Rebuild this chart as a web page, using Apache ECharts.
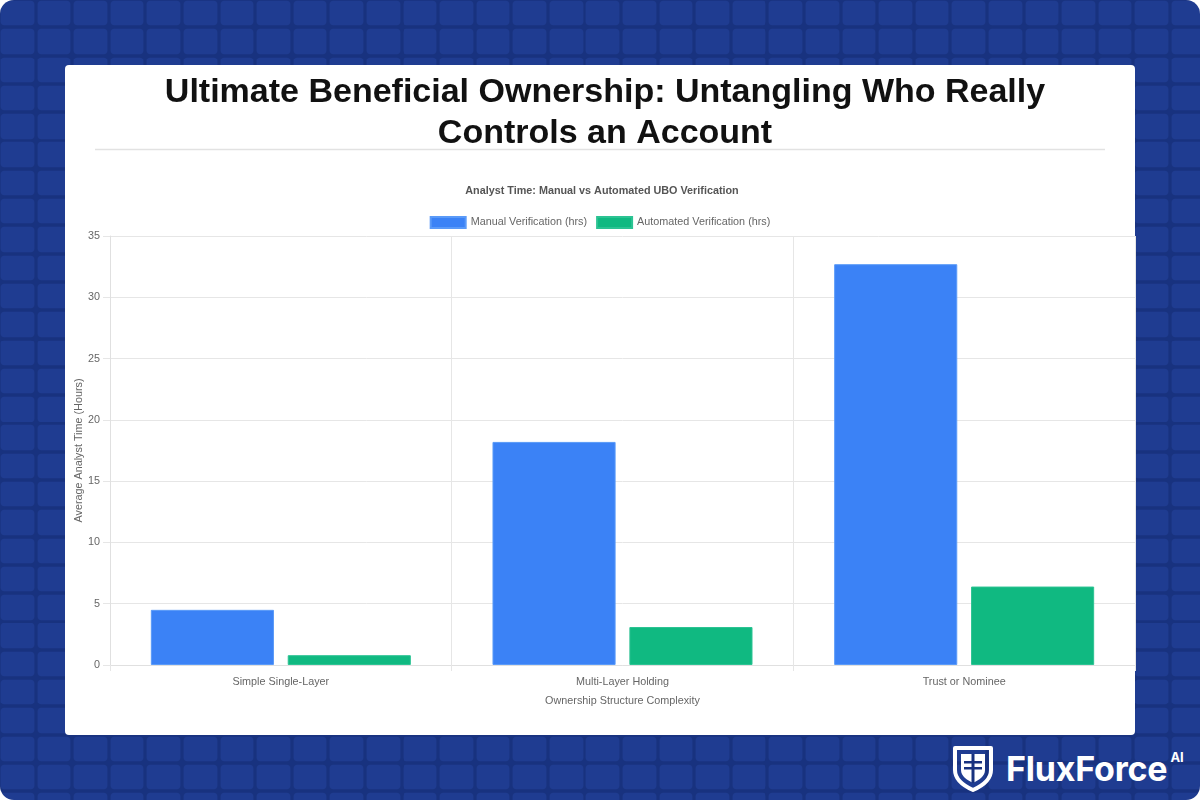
<!DOCTYPE html>
<html>
<head>
<meta charset="utf-8">
<script src="https://cdn.jsdelivr.net/npm/echarts@6/dist/echarts.min.js"></script>
<style>
  html, body { margin: 0; padding: 0; background: #ffffff; }
  #page {
    position: absolute; left: 0; top: 0; width: 1200px; height: 800px;
    border-radius: 14px; overflow: hidden;
    background-color: #18327f;
    background-image: url("data:image/svg+xml;utf8,<svg xmlns='http://www.w3.org/2000/svg' width='36.6' height='28.3'><rect x='1.6' y='1.6' width='33.4' height='25.1' rx='4' ry='4' fill='%231f3c91'/></svg>");
    background-size: 36.6px 28.3px;
    background-position: -1px -1px;
  }
  #card {
    position: absolute; left: 65px; top: 65px; width: 1070px; height: 670px;
    background: #ffffff; border-radius: 4px;
  }
  #chart { position: absolute; left: 0; top: 0; width: 1200px; height: 800px; }
  #logo { position: absolute; left: 952px; top: 744px; height: 48px; display: flex; align-items: center; }
  #logo .name { font-family: "Inter", "Liberation Sans", Arial, sans-serif; font-weight: 700; font-size: 34px; color: #fff; margin-left: 12px; letter-spacing: -0.2px; }
  #logo sup { font-family: "Inter", "Liberation Sans", Arial, sans-serif; font-weight: 700; font-size: 13px; color: #fff; position: relative; top: -11px; margin-left: 3px; }
</style>
</head>
<body>
<div id="page">
  <div id="card"></div>
  <div id="logo">
    <svg width="42" height="48" viewBox="0 0 42 48">
      <path d="M3 4 H39 V26 C39 36 30 42 21 46 C12 42 3 36 3 26 Z" fill="none" stroke="#fff" stroke-width="4" stroke-linejoin="round"/>
      <path d="M9 10 H33 V26 C33 32 27 36 21 39 C15 36 9 32 9 26 Z" fill="#fff"/>
      <rect x="19.5" y="10" width="3" height="29" fill="#18327f"/>
      <rect x="12" y="17" width="18" height="2.5" fill="#18327f"/>
      <rect x="12" y="23" width="18" height="2.5" fill="#18327f"/>
    </svg>
    <span class="name">FluxForce</span><sup>AI</sup>
  </div>
</div>
<div id="chart"></div>
<script>
const categories = ['Simple Single-Layer', 'Multi-Layer Holding', 'Trust or Nominee'];
const manualHours = [4.5, 18.2, 32.7];
const automatedHours = [0.8, 3.1, 6.4];
const seriesNames = ['Manual Verification (hrs)', 'Automated Verification (hrs)'];
const mainTitle = 'Ultimate Beneficial Ownership: Untangling Who Really\nControls an Account';
const chartTitle = 'Analyst Time: Manual vs Automated UBO Verification';
const yAxisName = 'Average Analyst Time (Hours)';
const xAxisName = 'Ownership Structure Complexity';

const FONT = '"Liberation Sans", Arial, Helvetica, sans-serif';
const SMALL = 10.8;
const chart = echarts.init(document.getElementById('chart'), null, { renderer: 'canvas' });
chart.setOption({
  backgroundColor: 'transparent',
  animation: false,
  textStyle: { fontFamily: FONT },
  title: [
    {
      text: mainTitle, left: 600, top: 67, textAlign: 'center',
      textStyle: { fontFamily: FONT, fontSize: 34, fontWeight: 'bold', color: '#111111', lineHeight: 41 }
    },
    {
      text: chartTitle, left: 597, top: 181, textAlign: 'center',
      textStyle: { fontFamily: FONT, fontSize: SMALL, fontWeight: 'bold', color: '#555555' }
    }
  ],
  graphic: [
    { type: 'line', shape: { x1: 95, y1: 149.5, x2: 1105, y2: 149.5 }, style: { stroke: '#e2e2e2', lineWidth: 1.5 } }
  ],
  legend: {
    top: 211, left: 'center', itemWidth: 35, itemHeight: 11, itemGap: 9,
    textStyle: { fontFamily: FONT, fontSize: SMALL, color: '#666666' },
    data: [
      { name: seriesNames[0], icon: 'rect' },
      { name: seriesNames[1], icon: 'rect' }
    ]
  },
  grid: { left: 110, right: 65, top: 236, bottom: 135, containLabel: false },
  xAxis: {
    type: 'category', data: categories, boundaryGap: true,
    name: xAxisName, nameLocation: 'middle', nameGap: 31, nameMoveOverlap: false,
    nameTextStyle: { fontFamily: FONT, fontSize: SMALL, color: '#666666' },
    axisLine: { show: true, lineStyle: { color: '#e0e0e0' } },
    axisTick: { show: true, length: 6, lineStyle: { color: '#e6e6e6' } },
    axisLabel: { fontFamily: FONT, fontSize: SMALL, color: '#666666', margin: 12 },
    splitLine: { show: true, lineStyle: { color: '#e6e6e6' } }
  },
  yAxis: {
    type: 'value', min: 0, max: 35, interval: 5,
    name: yAxisName, nameLocation: 'middle', nameGap: 25, nameRotate: 90, nameMoveOverlap: false,
    nameTextStyle: { fontFamily: FONT, fontSize: SMALL, color: '#666666' },
    axisLine: { show: true, lineStyle: { color: '#e0e0e0' } },
    axisTick: { show: true, length: 7, lineStyle: { color: '#e6e6e6' } },
    axisLabel: { fontFamily: FONT, fontSize: SMALL, color: '#666666', margin: 10 },
    splitLine: { show: true, lineStyle: { color: '#e6e6e6' } }
  },
  series: [
    {
      name: seriesNames[0], type: 'bar', data: manualHours,
      barCategoryGap: '23.9%', barGap: '11.2%',
      itemStyle: { color: '#3b82f6', borderColor: '#5a9af8', borderWidth: 1 }
    },
    {
      name: seriesNames[1], type: 'bar', data: automatedHours,
      barCategoryGap: '23.9%', barGap: '11.2%',
      itemStyle: { color: '#10b981', borderColor: '#2cc393', borderWidth: 1 }
    }
  ]
});
</script>
</body>
</html>
